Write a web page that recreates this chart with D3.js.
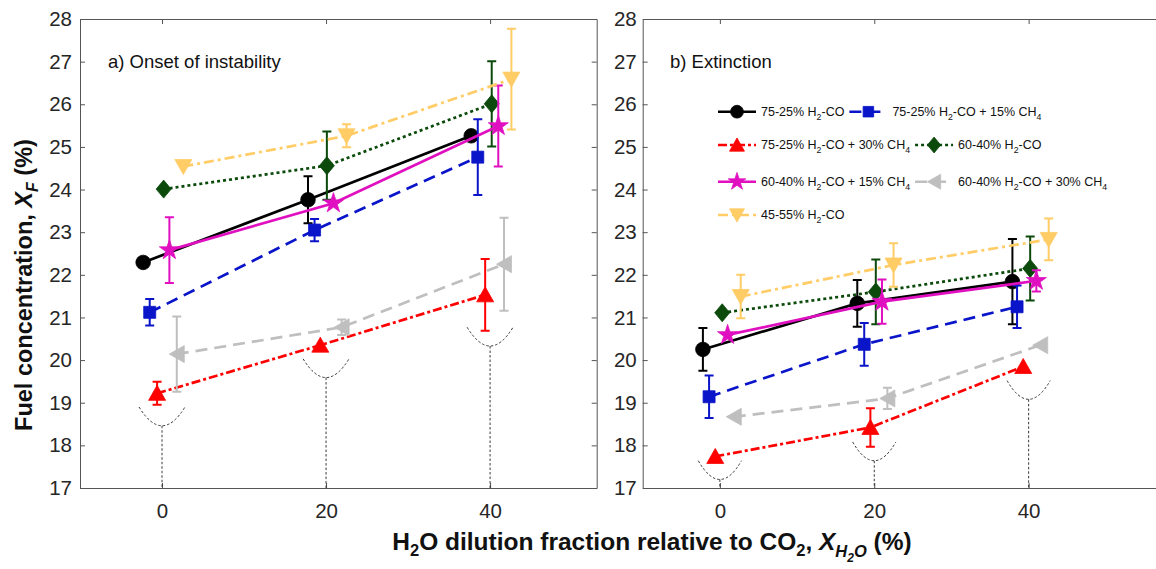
<!DOCTYPE html>
<html>
<head>
<meta charset="utf-8">
<script src="https://cdn.jsdelivr.net/npm/d3@7"></script>
<style>
  body { margin: 0; background: #fff; }
  svg { display: block; }
</style>
</head>
<body>
<script>
// ---- data ----
const seriesNames = [
  '75-25% H_2-CO',
  '75-25% H_2-CO + 15% CH_4',
  '75-25% H_2-CO + 30% CH_4',
  '60-40% H_2-CO',
  '60-40% H_2-CO + 15% CH_4',
  '60-40% H_2-CO + 30% CH_4',
  '45-55% H_2-CO'
];
const xTicks = [0, 20, 40];
const yTicks = [17, 18, 19, 20, 21, 22, 23, 24, 25, 26, 27, 28];

// a) onset of instability (x is shifted a little per series in the original)
const onsetX = [
  [-2.3, 17.8, 37.7],
  [-1.5, 18.6, 38.5],
  [-0.6, 19.3, 39.4],
  [0.2, 20.1, 40.2],
  [0.9, 20.9, 41.0],
  [1.8, 21.9, 41.7],
  [2.6, 22.5, 42.6]
];
const onsetY = [
  [22.29, 23.76, 25.26],
  [21.12, 23.05, 24.76],
  [19.22, 20.35, 21.53],
  [24.01, 24.56, 26.01],
  [22.58, 23.68, 25.49],
  [20.14, 20.77, 22.25],
  [24.54, 25.26, 26.59]
];
const onsetErr = [
  [null, 0.55, null],
  [0.31, 0.26, 0.89],
  [0.27, null, 0.84],
  [null, 0.80, 1.00],
  [0.77, null, 0.95],
  [0.88, 0.18, 1.09],
  [null, 0.27, 1.18]
];

// b) extinction
const extX = [
  [-2.2, 17.8, 37.9],
  [-1.4, 18.7, 38.5],
  [-0.6, 19.5, 39.3],
  [0.3, 20.2, 40.2],
  [1.0, 21.0, 41.0],
  [1.8, 21.7, 41.5],
  [2.7, 22.5, 42.6]
];
const extY = [
  [20.25, 21.33, 21.84],
  [19.14, 20.37, 21.25],
  [17.74, 18.42, 19.85],
  [21.11, 21.60, 22.15],
  [20.59, 21.37, 21.86],
  [18.67, 19.10, 20.35],
  [21.49, 22.23, 22.83]
];
const extErr = [
  [0.50, 0.55, 1.00],
  [0.50, 0.50, 0.50],
  [null, 0.45, null],
  [null, 0.76, 0.75],
  [null, 0.52, 0.25],
  [null, 0.25, null],
  [0.51, 0.51, 0.49]
];

// dashed "cup" annotations: centre x and lowest point
const arcX = [0, 20, 40];
const onsetArcY = [18.46, 19.59, 20.33];
const extArcY = [17.2, 17.64, 19.08];

// ---- styles ----
const styles = [
  { color: '#000000', dash: null,          marker: 'circle' },
  { color: '#0a14c8', dash: '12,7',        marker: 'square' },
  { color: '#ff0000', dash: '9,3,3,3',     marker: 'triUp' },
  { color: '#0b4a0b', dash: '3,3',         marker: 'diamond' },
  { color: '#e010c0', dash: null,          marker: 'star' },
  { color: '#bfbfbf', dash: '12,7',        marker: 'triLeft' },
  { color: '#ffcc66', dash: '10,4,3,4',    marker: 'triDown' }
];

const W = 1156, H = 569;
const FONT = '"Liberation Sans", Arial, Helvetica, sans-serif';
const axisColor = '#555';

const svg = d3.select('body').append('svg')
  .attr('width', W).attr('height', H)
  .style('font-family', FONT);

function markerPath(type, k) {
  k = k || 1;
  switch (type) {
    case 'circle': return d3.symbol(d3.symbolCircle, Math.PI * 7.3 * 7.3 * k * k)();
    case 'square': return `M${-6*k},${-6*k}H${6*k}V${6*k}H${-6*k}Z`;
    case 'triUp': return `M0,${-8*k}L${8.5*k},${7*k}L${-8.5*k},${7*k}Z`;
    case 'triDown': return `M0,${8*k}L${8.5*k},${-7*k}L${-8.5*k},${-7*k}Z`;
    case 'triLeft': return `M${-7.5*k},0L${7.5*k},${-8.5*k}L${7.5*k},${8.5*k}Z`;
    case 'diamond': return `M0,${-9*k}L${7.5*k},0L0,${9*k}L${-7.5*k},0Z`;
    case 'star': return d3.symbol(d3.symbolStar, 125 * k * k)();
  }
}

// text with "_x" subscripts
function richText(sel, str, size) {
  const parts = str.split('_');
  sel.append('tspan').text(parts[0]);
  parts.slice(1).forEach(p => {
    sel.append('tspan').attr('font-size', size * 0.7).attr('dy', size * 0.3).text(p[0]);
    sel.append('tspan').attr('dy', -size * 0.3).text(p.slice(1));
  });
}

const panels = [
  { title: 'a) Onset of instability', x0: 80, x1: 596.7, xmax: 53, titleX: 108,
    xs: onsetX, ys: onsetY, errs: onsetErr, arcY: onsetArcY, pad: 8, legend: false },
  { title: 'b) Extinction', x0: 642.7, x1: 1183, xmax: 60, titleX: 670,
    xs: extX, ys: extY, errs: extErr, arcY: extArcY, pad: 6, legend: true }
];

const yTop = 19, yBot = 488;

panels.forEach(p => {
  const x = d3.scaleLinear().domain([-10, p.xmax]).range([p.x0, p.x1]);
  const y = d3.scaleLinear().domain([17, 28]).range([yBot, yTop]);
  const g = svg.append('g');

  // axes, ticks pointing inward on all four sides
  const axes = [
    [d3.axisBottom(x).tickValues(xTicks).tickPadding(15), `translate(0,${yBot})`],
    [d3.axisTop(x).tickValues(xTicks).tickFormat(''), `translate(0,${yTop})`],
    [d3.axisLeft(y).tickValues(yTicks).tickPadding(p.pad), `translate(${p.x0},0)`],
    [d3.axisRight(y).tickValues(yTicks).tickFormat(''), `translate(${p.x1},0)`]
  ];
  axes.forEach(([ax, tr]) => {
    const a = g.append('g').attr('transform', tr)
      .call(ax.tickSizeInner(-5).tickSizeOuter(0));
    a.select('.domain').attr('stroke', axisColor);
    a.selectAll('.tick line').attr('stroke', axisColor);
    a.selectAll('text').attr('font-size', 20.5).attr('fill', '#262626').style('font-family', FONT);
  });

  // cup-shaped dashed annotations + dropping line to the axis
  const hw = 2.8, depth = 0.44;
  arcX.forEach((cx, i) => {
    const ym = p.arcY[i];
    const path = d3.path();
    path.moveTo(x(cx - hw), y(ym + depth));
    path.quadraticCurveTo(x(cx), y(ym - depth), x(cx + hw), y(ym + depth));
    g.append('path').attr('d', path.toString())
      .attr('fill', 'none').attr('stroke', '#222').attr('stroke-width', 0.9)
      .attr('stroke-dasharray', '2.5,2');
    g.append('line')
      .attr('x1', x(cx)).attr('x2', x(cx)).attr('y1', y(ym)).attr('y2', y(17))
      .attr('stroke', '#222').attr('stroke-width', 0.9).attr('stroke-dasharray', '2.5,2');
  });

  // series
  const line = d3.line().x(d => x(d[0])).y(d => y(d[1]));
  styles.forEach((s, i) => {
    const pts = p.xs[i].map((xv, j) => [xv, p.ys[i][j], p.errs[i][j]]);
    const sg = g.append('g');
    sg.append('path').attr('d', line(pts))
      .attr('fill', 'none').attr('stroke', s.color).attr('stroke-width', 2.7)
      .attr('stroke-dasharray', s.dash);
    pts.filter(d => d[2] != null).forEach(d => {
      const px = x(d[0]), t = y(d[1] + d[2]), b = y(d[1] - d[2]);
      sg.append('path')
        .attr('d', `M${px},${t}V${b}M${px - 4.5},${t}H${px + 4.5}M${px - 4.5},${b}H${px + 4.5}`)
        .attr('fill', 'none').attr('stroke', s.color).attr('stroke-width', 2);
    });
    sg.selectAll('.mk').data(pts).join('path')
      .attr('d', markerPath(s.marker))
      .attr('transform', d => `translate(${x(d[0])},${y(d[1])})`)
      .attr('fill', s.color).attr('stroke', s.color).attr('stroke-width', 0.8);
  });

  // panel title
  g.append('text').attr('x', p.titleX).attr('y', 68)
    .attr('font-size', 18.5).attr('fill', '#111').text(p.title);

  if (p.legend) {
    const rows = [[0, 1], [2, 3], [4, 5], [6]];
    const rowY = [111.7, 145, 181.7, 215];
    const lg = g.append('g');
    rows.forEach((r, ri) => {
      let cx = 718;
      r.forEach(si => {
        const s = styles[si];
        const yy = rowY[ri];
        lg.append('line').attr('x1', cx).attr('x2', cx + 38).attr('y1', yy).attr('y2', yy)
          .attr('stroke', s.color).attr('stroke-width', 2.6).attr('stroke-dasharray', s.dash);
        lg.append('path').attr('d', markerPath(s.marker, 0.88))
          .attr('transform', `translate(${cx + 19},${yy})`)
          .attr('fill', s.color).attr('stroke', s.color).attr('stroke-width', 0.8);
        const t = lg.append('text').attr('x', cx + 43).attr('y', yy + 4.2)
          .attr('font-size', 12.5).attr('fill', '#111');
        richText(t, seriesNames[si], 12.5);
        cx = cx + 43 + t.node().getComputedTextLength() + 5;
      });
    });
  }
});

// axis titles
const yl = svg.append('text')
  .attr('transform', 'translate(32,285) rotate(-90)')
  .attr('text-anchor', 'middle').attr('font-size', 23.5).attr('font-weight', 'bold')
  .attr('fill', '#111');
yl.append('tspan').text('Fuel concentration, ');
yl.append('tspan').attr('font-style', 'italic').text('X');
yl.append('tspan').attr('font-style', 'italic').attr('font-size', 16).attr('dy', 6).text('F');
yl.append('tspan').attr('dy', -6).text(' (%)');

const xl = svg.append('text')
  .attr('x', 652).attr('y', 550)
  .attr('text-anchor', 'middle').attr('font-size', 24.5).attr('font-weight', 'bold')
  .attr('fill', '#111');
xl.append('tspan').text('H');
xl.append('tspan').attr('font-size', 16.5).attr('dy', 6).text('2');
xl.append('tspan').attr('dy', -6).text('O dilution fraction relative to CO');
xl.append('tspan').attr('font-size', 16.5).attr('dy', 6).text('2');
xl.append('tspan').attr('dy', -6).text(', ');
xl.append('tspan').attr('font-style', 'italic').text('X');
xl.append('tspan').attr('font-style', 'italic').attr('font-size', 16.5).attr('dy', 7).text('H');
xl.append('tspan').attr('font-style', 'italic').attr('font-size', 12).attr('dy', 5).text('2');
xl.append('tspan').attr('font-style', 'italic').attr('font-size', 16.5).attr('dy', -5).text('O');
xl.append('tspan').attr('dy', -7).text(' (%)');
</script>
</body>
</html>
